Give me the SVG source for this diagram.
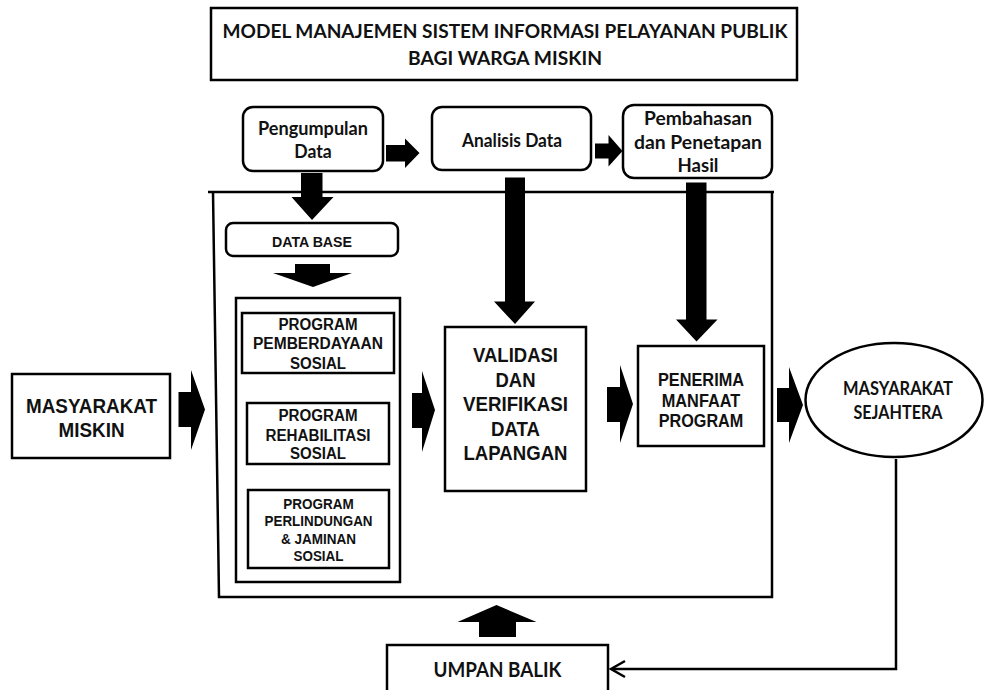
<svg xmlns="http://www.w3.org/2000/svg" width="986" height="690" viewBox="0 0 986 690">
<style>
.bx{fill:#fff;stroke:#000;stroke-width:2.5}
.ln{fill:none;stroke:#000;stroke-width:2.5}
.ar{fill:#000;stroke:none}
.c{font-family:Lato,"Open Sans","Liberation Sans",sans-serif;font-weight:bold;fill:#111;text-anchor:middle}
.a{font-family:"Liberation Sans",Arial,sans-serif;font-weight:bold;fill:#111;text-anchor:middle}
</style>
<rect width="986" height="690" fill="#fff"/>
<g id="title">
<rect class="bx" x="211" y="8" width="586" height="72"/>
<text class="c" x="505" y="37.5" font-size="19" textLength="565" lengthAdjust="spacingAndGlyphs">MODEL MANAJEMEN SISTEM INFORMASI PELAYANAN PUBLIK</text>
<text class="c" x="505" y="65" font-size="19" textLength="194" lengthAdjust="spacingAndGlyphs">BAGI WARGA MISKIN</text>
</g>
<g id="container">
<path class="ln" d="M208,192 H774 M772,192 V597 H219 L213,192"/>
</g>
<g id="pengumpulan">
<rect class="bx" x="243" y="107" width="140" height="64" rx="10"/>
<text class="c" x="313" y="135" font-size="18" textLength="110" lengthAdjust="spacingAndGlyphs">Pengumpulan</text>
<text class="c" x="313" y="158" font-size="18" textLength="37.5" lengthAdjust="spacingAndGlyphs">Data</text>
</g>
<g id="analisis">
<rect class="bx" x="432" y="107" width="159" height="63" rx="10"/>
<text class="c" x="512" y="146.5" font-size="18" textLength="100" lengthAdjust="spacingAndGlyphs">Analisis Data</text>
</g>
<g id="pembahasan">
<rect class="bx" x="623" y="105" width="149" height="73" rx="11"/>
<text class="c" x="698" y="125" font-size="18.5" textLength="108" lengthAdjust="spacingAndGlyphs">Pembahasan</text>
<text class="c" x="698" y="148.5" font-size="18.5" textLength="128" lengthAdjust="spacingAndGlyphs">dan Penetapan</text>
<text class="c" x="698" y="171.5" font-size="18.5" textLength="41" lengthAdjust="spacingAndGlyphs">Hasil</text>
</g>
<g id="database">
<rect class="bx" x="226" y="223" width="172" height="33" rx="7"/>
<text class="a" x="312" y="247" font-size="15" textLength="80" lengthAdjust="spacingAndGlyphs">DATA BASE</text>
</g>
<g id="programs">
<rect class="bx" x="236" y="298" width="164" height="284"/>
</g>
<g id="program-pemberdayaan">
<rect class="bx" x="242" y="313" width="152" height="60"/>
<text class="a" x="318" y="330" font-size="16" textLength="79" lengthAdjust="spacingAndGlyphs">PROGRAM</text>
<text class="a" x="318" y="349.3" font-size="16" textLength="130" lengthAdjust="spacingAndGlyphs">PEMBERDAYAAN</text>
<text class="a" x="318" y="368.7" font-size="16" textLength="56" lengthAdjust="spacingAndGlyphs">SOSIAL</text>
</g>
<g id="program-rehabilitasi">
<rect class="bx" x="247" y="403" width="142" height="61"/>
<text class="a" x="318" y="421" font-size="16" textLength="79" lengthAdjust="spacingAndGlyphs">PROGRAM</text>
<text class="a" x="318" y="441" font-size="16" textLength="105" lengthAdjust="spacingAndGlyphs">REHABILITASI</text>
<text class="a" x="318" y="459.3" font-size="16" textLength="56" lengthAdjust="spacingAndGlyphs">SOSIAL</text>
</g>
<g id="program-perlindungan">
<rect class="bx" x="248" y="490" width="141" height="78"/>
<text class="a" x="318.5" y="508.7" font-size="14.5" textLength="70.5" lengthAdjust="spacingAndGlyphs">PROGRAM</text>
<text class="a" x="318.5" y="526" font-size="14.5" textLength="108" lengthAdjust="spacingAndGlyphs">PERLINDUNGAN</text>
<text class="a" x="318.5" y="544" font-size="14.5" textLength="75" lengthAdjust="spacingAndGlyphs">&amp; JAMINAN</text>
<text class="a" x="318.5" y="560.7" font-size="14.5" textLength="50" lengthAdjust="spacingAndGlyphs">SOSIAL</text>
</g>
<g id="masyarakat-miskin">
<rect class="bx" x="12" y="374" width="158" height="84"/>
<text class="a" x="91.5" y="413" font-size="20" textLength="131" lengthAdjust="spacingAndGlyphs">MASYARAKAT</text>
<text class="a" x="91.5" y="437" font-size="20" textLength="66" lengthAdjust="spacingAndGlyphs">MISKIN</text>
</g>
<g id="validasi">
<rect class="bx" x="445" y="327" width="141" height="164"/>
<text class="a" x="515.5" y="362" font-size="19.5" textLength="85" lengthAdjust="spacingAndGlyphs">VALIDASI</text>
<text class="a" x="515.5" y="387" font-size="19.5" textLength="40" lengthAdjust="spacingAndGlyphs">DAN</text>
<text class="a" x="515.5" y="411" font-size="19.5" textLength="105" lengthAdjust="spacingAndGlyphs">VERIFIKASI</text>
<text class="a" x="515.5" y="435.5" font-size="19.5" textLength="49" lengthAdjust="spacingAndGlyphs">DATA</text>
<text class="a" x="515.5" y="460" font-size="19.5" textLength="104" lengthAdjust="spacingAndGlyphs">LAPANGAN</text>
</g>
<g id="penerima">
<rect class="bx" x="638" y="346" width="126" height="100"/>
<text class="a" x="701" y="386" font-size="18" textLength="86" lengthAdjust="spacingAndGlyphs">PENERIMA</text>
<text class="a" x="701" y="406.7" font-size="18" textLength="78.5" lengthAdjust="spacingAndGlyphs">MANFAAT</text>
<text class="a" x="701" y="427.3" font-size="18" textLength="84.5" lengthAdjust="spacingAndGlyphs">PROGRAM</text>
</g>
<g id="masyarakat-sejahtera">
<ellipse class="bx" cx="894" cy="400" rx="88.5" ry="57"/>
<text class="c" x="898" y="395" font-size="18" textLength="110" lengthAdjust="spacingAndGlyphs">MASYARAKAT</text>
<text class="c" x="898" y="419" font-size="18" textLength="89" lengthAdjust="spacingAndGlyphs">SEJAHTERA</text>
</g>
<g id="umpan-balik">
<rect class="bx" x="387" y="645" width="221" height="60"/>
<text class="c" x="497.5" y="677" font-size="20" textLength="128" lengthAdjust="spacingAndGlyphs">UMPAN BALIK</text>
</g>
<g id="connectors">
<path class="ar" d="M386,145 H405 V138.5 L419.5,153 L405,168 V161.5 H386 Z"/>
<path class="ar" d="M595,143.5 H608.5 V135 L622.5,151 L608.5,166.5 V158.5 H595 Z"/>
<path class="ar" d="M301,173 H322.5 V197 H333.5 L312,220 L291.5,197 H301 Z"/>
<path class="ar" d="M295,264 H330 V273 H352 L313,287 L273,273 H295 Z"/>
<path class="ar" d="M505,177.5 H525 V301.5 H535 L515,324 L494,301.5 H505 Z"/>
<path class="ar" d="M686,182.5 H706.5 V319.5 H717.5 L696.5,341.5 L676,319.5 H686 Z"/>
<path class="ar" d="M178.5,392 H191 V370 L205,409.5 L191,450 V427 H178.5 Z"/>
<path class="ar" d="M412,393 H422 V371 L435,410 L422,452 V428 H412 Z"/>
<path class="ar" d="M607,387 H620 V365 L633,404 L620,443 V422 H607 Z"/>
<path class="ar" d="M777,388 H789 V367 L803,405 L789,443 V422 H777 Z"/>
<path class="ar" d="M479,637 V622 H457.5 L496.5,605 L536.5,622 H516 V637 Z"/>
<path class="ln" stroke-width="3" d="M896,459 V669 H612"/>
<path class="ln" stroke-width="3" d="M625,661 L611,669 L625,677"/>
</g>
</svg>
